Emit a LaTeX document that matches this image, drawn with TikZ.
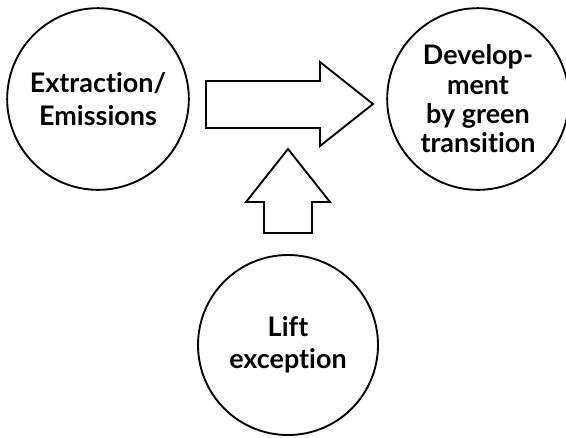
\documentclass[tikz,border=0pt]{standalone}
\usepackage{fontspec}
\setmainfont{Lato}[Ligatures={NoCommon,NoRare,NoDiscretionary}]
\begin{document}
\tikzset{
  bubble/.style={draw,circle,line width=1.6pt,minimum size=5.45cm,inner sep=0pt,
    align=center,font=\fontsize{23}{28}\selectfont\bfseries},
  blockarrow/.style={draw,line width=1.6pt,line join=miter}
}
\begin{tikzpicture}[x=0.03cm,y=-0.03cm]
\useasboundingbox (0,0) rectangle (566,437);
\node[bubble] (extract) at (98,99) {Extraction/\\Emissions};
\node[bubble,font=\fontsize{23}{25}\selectfont\bfseries] (develop) at (478,99) {Develop-\\ment\\by green\\transition};
\node[bubble,minimum size=5.4cm,font=\fontsize{23}{27}\selectfont\bfseries] (lift) at (288,345) {Lift\\exception};
% block arrows
\draw[blockarrow] (206,81) -- (320,81) -- (320,62) -- (373,104) -- (320,146) -- (320,128) -- (206,128) -- cycle;
\draw[blockarrow] (288,149) -- (330,202) -- (312,202) -- (312,233) -- (264,233) -- (264,202) -- (246,202) -- cycle;
\end{tikzpicture}
\end{document}
